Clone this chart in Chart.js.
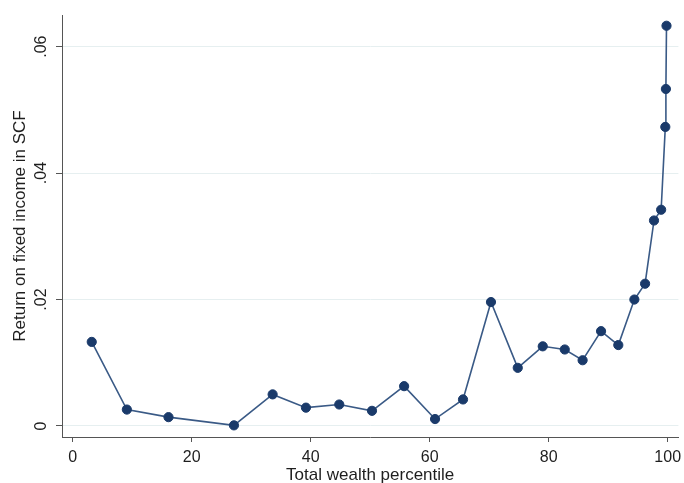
<!DOCTYPE html>
<html>
<head>
<meta charset="utf-8">
<script src="https://cdn.jsdelivr.net/npm/chart.js@4/dist/chart.umd.min.js"></script>
<style>
  body { margin: 0; background: #fff; }
  #wrap { width: 684px; height: 483px; }
</style>
</head>
<body>
<div id="wrap"><canvas id="fixedIncomeChart" width="684" height="483"></canvas></div>
<script>
// wealth percentile bins (x) and return on fixed income (y)
const percentile = [3.2, 9.1, 16.1, 27.1, 33.6, 39.2, 44.8, 50.3, 55.7, 60.9, 65.6, 70.3, 74.8,
                    79.0, 82.7, 85.7, 88.8, 91.7, 94.4, 96.2, 97.7, 98.9, 99.6, 99.7, 99.8];
const fixedReturn = [0.0133, 0.0026, 0.0014, 0.0001, 0.0050, 0.0029, 0.0034, 0.0024, 0.0063,
                     0.0011, 0.0042, 0.0196, 0.0092, 0.0126, 0.0121, 0.0104, 0.0150, 0.0128,
                     0.0200, 0.0225, 0.0325, 0.0342, 0.0473, 0.0533, 0.0633];
const xTicks = [0, 20, 40, 60, 80, 100];
const yTicks = [0, 0.02, 0.04, 0.06];

const FONT = '"Liberation Sans", Arial, Helvetica, sans-serif';
const TEXT = '#1e1e1e';
const AXIS = '#555';

document.addEventListener('DOMContentLoaded', () => {
    const ctx = document.getElementById('fixedIncomeChart');
    const points = percentile.map((p, i) => ({ x: p, y: fixedReturn[i] }));

    new Chart(ctx, {
        type: 'line',
        data: {
            datasets: [{
                data: points,
                borderColor: '#3a5a86',
                borderWidth: 1.6,
                tension: 0,
                pointRadius: 4.6,
                pointBackgroundColor: '#1a3a6a',
                pointBorderColor: '#1a3a6a',
                pointBorderWidth: 1,
                clip: false
            }]
        },
        options: {
            responsive: false,
            animation: false,
            layout: { padding: { top: 15, right: 5, left: 0, bottom: 0 } },
            plugins: {
                legend: { display: false },
                tooltip: { enabled: false }
            },
            scales: {
                x: {
                    type: 'linear',
                    min: -1.8,
                    max: 101.8,
                    afterBuildTicks: s => { s.ticks = xTicks.map(v => ({ value: v })); },
                    // fixed axis height, and let the "100" label hang into the right margin
                    afterFit: s => { s.height = 46; s.paddingLeft = 0; s.paddingRight = 0; },
                    border: { color: AXIS, width: 1 },
                    grid: { drawOnChartArea: false, tickLength: 5, tickColor: AXIS },
                    ticks: {
                        color: TEXT,
                        font: { family: FONT, size: 16 },
                        padding: 6,
                        maxRotation: 0
                    },
                    title: {
                        display: true,
                        text: 'Total wealth percentile',
                        color: TEXT,
                        font: { family: FONT, size: 17 },
                        padding: { top: 0, bottom: -3 }
                    }
                },
                y: {
                    type: 'linear',
                    min: -0.00174,
                    max: 0.065,
                    afterBuildTicks: s => { s.ticks = yTicks.map(v => ({ value: v })); },
                    afterFit: s => { s.width = 62; s.paddingTop = 0; s.paddingBottom = 0; },
                    border: { color: AXIS, width: 1 },
                    grid: { color: '#e6eff0', lineWidth: 1, tickLength: 6, tickColor: AXIS },
                    ticks: {
                        color: TEXT,
                        font: { family: FONT, size: 16 },
                        padding: 3,
                        minRotation: 90,
                        maxRotation: 90,
                        crossAlign: 'center',
                        callback: v => v === 0 ? '0' : v.toFixed(2).replace(/^0/, '')
                    },
                    title: {
                        display: true,
                        text: 'Return on fixed income in SCF',
                        color: TEXT,
                        font: { family: FONT, size: 17 },
                        padding: { top: 10, bottom: 0 }
                    }
                }
            }
        }
    });
});
</script>
</body>
</html>
